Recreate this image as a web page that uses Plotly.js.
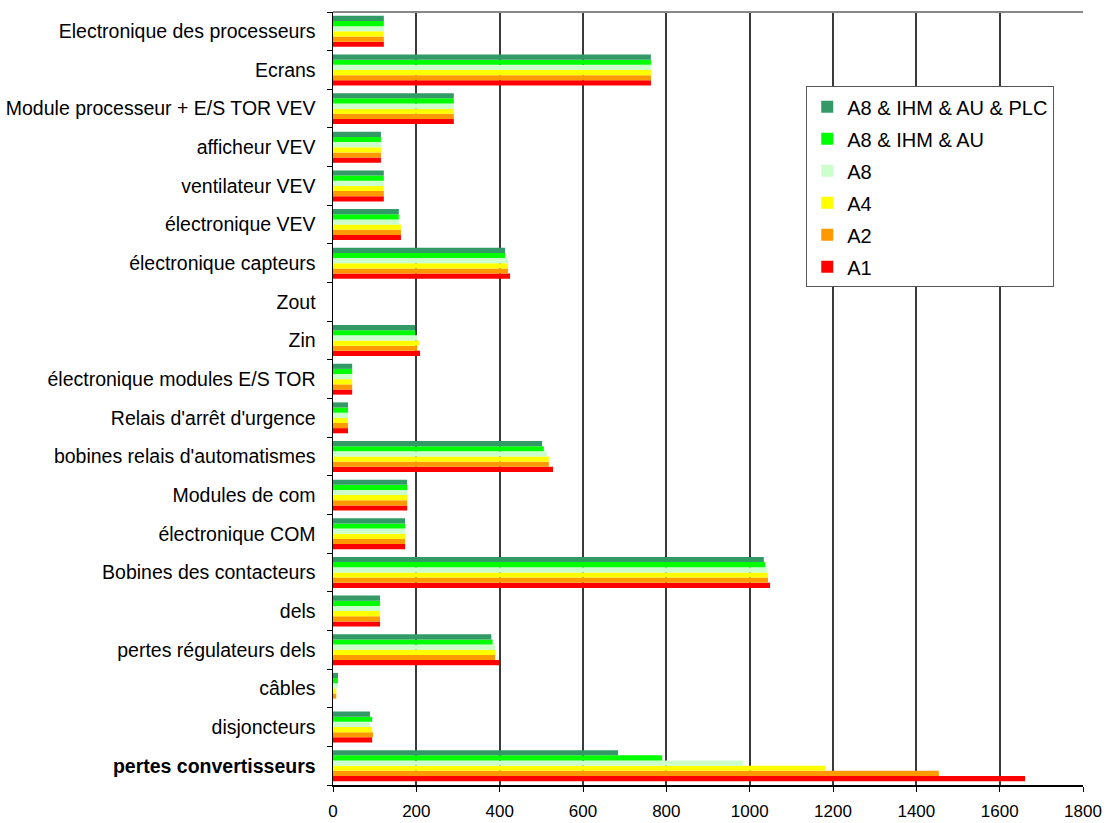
<!DOCTYPE html>
<html>
<head>
<meta charset="utf-8">
<script src="https://cdn.plot.ly/plotly-3.0.1.min.js"></script>
<style>html,body{margin:0;padding:0;background:#fff;}#chart{width:1108px;height:823px;}</style>
</head>
<body>
<div id="chart"></div>
<script>
// Categories listed from bottom to top
const categories = [
  "pertes convertisseurs",
  "disjoncteurs",
  "câbles",
  "pertes régulateurs dels",
  "dels",
  "Bobines des contacteurs",
  "électronique COM",
  "Modules de com",
  "bobines relais d'automatismes",
  "Relais d'arrêt d'urgence",
  "électronique modules E/S TOR",
  "Zin",
  "Zout",
  "électronique capteurs",
  "électronique VEV",
  "ventilateur VEV",
  "afficheur VEV",
  "Module processeur + E/S TOR VEV",
  "Ecrans",
  "Electronique des processeurs"
];
const categoryLabels = categories.map(c => c === "pertes convertisseurs" ? "<b>" + c + "</b>" : c);

const seriesNames = ["A1", "A2", "A4", "A8", "A8 & IHM & AU", "A8 & IHM & AU & PLC"];
const seriesColors = ["#ff0000", "#ff9900", "#ffff00", "#ccffcc", "#00ff00", "#339966"];

const A1        = [1661, 94, 0, 399, 113, 1049, 173, 178, 528, 36, 46, 209, 0, 425, 163, 122, 115, 290, 763, 122];
const A2        = [1454, 96, 8, 389, 113, 1044, 173, 178, 518, 36, 46, 202, 0, 420, 163, 122, 115, 290, 763, 122];
const A4        = [1181, 94, 8, 389, 113, 1044, 173, 178, 518, 36, 46, 206, 0, 420, 163, 122, 115, 290, 763, 122];
const A8        = [984, 89, 12, 389, 113, 1042, 173, 178, 514, 36, 46, 202, 0, 420, 158, 122, 115, 290, 763, 122];
const A8_IHM_AU = [790, 94, 12, 383, 113, 1037, 173, 178, 506, 36, 46, 197, 0, 413, 158, 122, 115, 290, 763, 122];
const A8_IHM_AU_PLC = [684, 89, 12, 380, 113, 1034, 173, 178, 502, 36, 46, 197, 0, 413, 158, 122, 115, 290, 763, 122];

const seriesValues = [A1, A2, A4, A8, A8_IHM_AU, A8_IHM_AU_PLC];
const xTicks = [0, 200, 400, 600, 800, 1000, 1200, 1400, 1600, 1800];

const traces = seriesNames.map((name, i) => ({
  type: "bar",
  orientation: "h",
  name: name,
  legendgroup: "g" + i,
  legendrank: seriesNames.length - i,
  y: categories,
  x: seriesValues[i],
  marker: {color: seriesColors[i], line: {width: 0}},
  hoverinfo: "x+y+name"
}));

const layout = {
  width: 1108,
  height: 823,
  margin: {l: 333, r: 25, t: 12, b: 38, pad: 0},
  paper_bgcolor: "#ffffff",
  plot_bgcolor: "#ffffff",
  font: {family: "Liberation Sans, Arial, sans-serif", size: 16, color: "#000"},
  barmode: "group",
  bargap: 0.2,
  bargroupgap: 0,
  showlegend: true,
  legend: {
    x: 0.631, y: 0.904, xanchor: "left", yanchor: "top",
    traceorder: "grouped",
    tracegroupgap: 3,
    bgcolor: "#ffffff",
    bordercolor: "#555",
    borderwidth: 1,
    font: {family: "Liberation Sans, Arial, sans-serif", size: 20, color: "#000"},
    itemwidth: 30
  },
  xaxis: {
    range: [0, 1800],
    tickvals: xTicks,
    ticktext: xTicks.map(String),
    showgrid: true,
    gridcolor: "#3a3a3a",
    gridwidth: 2,
    zeroline: false,
    showline: true,
    linecolor: "#000",
    linewidth: 1.5,
    ticks: "outside",
    ticklen: 5,
    tickcolor: "#000",
    tickfont: {size: 17},
    ticklabelstandoff: 5,
    fixedrange: true
  },
  yaxis: {
    type: "category",
    categoryorder: "array",
    categoryarray: categories,
    tickvals: categories,
    ticktext: categoryLabels,
    tickson: "boundaries",
    ticks: "outside",
    ticklen: 5,
    tickcolor: "#000",
    showgrid: false,
    showline: true,
    linecolor: "#000",
    linewidth: 1.5,
    tickfont: {size: 19.5},
    ticklabelstandoff: 12,
    fixedrange: true
  },
  shapes: [
    {type: "line", xref: "paper", yref: "paper", x0: 0, x1: 1, y0: 1, y1: 1,
     line: {color: "#888", width: 2}}
  ]
};

Plotly.newPlot("chart", traces, layout, {displayModeBar: false, staticPlot: true});
</script>
</body>
</html>
